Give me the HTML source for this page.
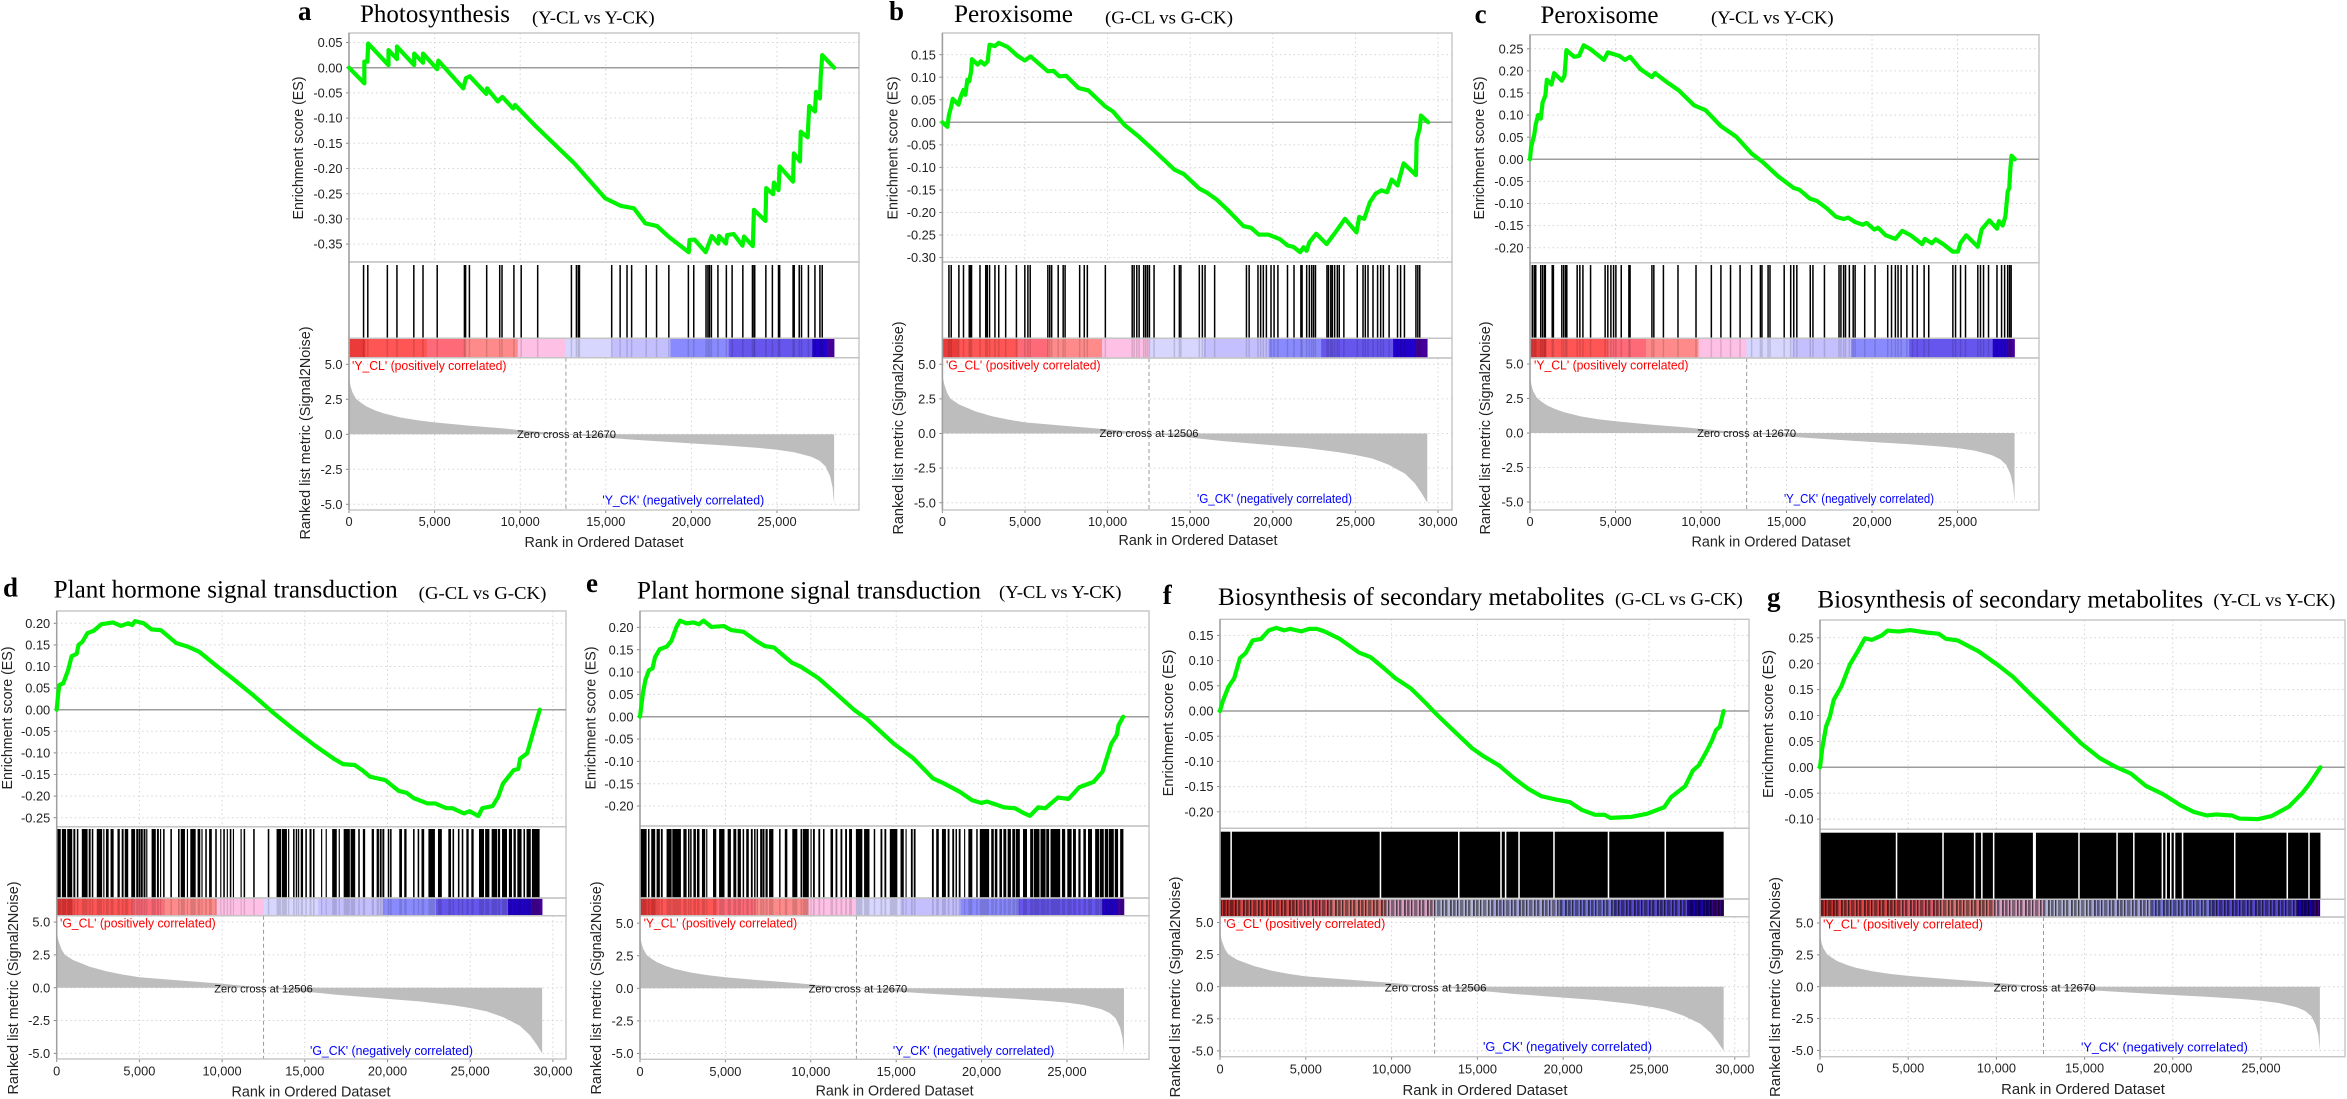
<!DOCTYPE html>
<html lang="en">
<head>
<meta charset="utf-8">
<title>GSEA enrichment plots</title>
<style>
html,body{margin:0;padding:0;background:#fff;width:2347px;height:1099px;overflow:hidden}
svg{display:block;filter:blur(.35px)}
.ttl{font-family:"Liberation Serif",serif;font-size:25px;fill:#000}
.sub{font-family:"Liberation Serif",serif;font-size:18px;fill:#000}
.let{font-family:"Liberation Serif",serif;font-size:27px;font-weight:bold;fill:#000}
.axt{font-family:"Liberation Sans",sans-serif;font-size:14.4px;fill:#222}
.tck{font-family:"Liberation Sans",sans-serif;font-size:12.8px;fill:#222}
.pos{font-family:"Liberation Sans",sans-serif;font-size:12.6px;fill:#f00}
.neg{font-family:"Liberation Sans",sans-serif;font-size:12.6px;fill:#00f}
.zer{font-family:"Liberation Sans",sans-serif;font-size:11.2px;fill:#111}
</style>
</head>
<body>
<svg id="figure" xmlns="http://www.w3.org/2000/svg" width="2347" height="1099" viewBox="0 0 2347 1099">
<defs>
<pattern id="heat-stripes" patternUnits="userSpaceOnUse" width="23" height="10">
<rect x="0" y="0" width="23" height="10" fill="#000" opacity=".16"/>
<rect x="1" y="0" width="1.8" height="10" fill="#000" opacity=".62"/>
<rect x="4" y="0" width="2.6" height="10" fill="#000" opacity=".48"/>
<rect x="8" y="0" width="1.4" height="10" fill="#000" opacity=".66"/>
<rect x="11" y="0" width="3.4" height="10" fill="#000" opacity=".4"/>
<rect x="16" y="0" width="1.6" height="10" fill="#000" opacity=".62"/>
<rect x="19" y="0" width="2.4" height="10" fill="#000" opacity=".5"/>
</pattern>
</defs>
<rect width="2347" height="1099" fill="#fff"/>
<g id="plots"></g>

<g>
<text class="let" x="298" y="20">a</text>
<text class="ttl" x="360" y="22" textLength="150" lengthAdjust="spacingAndGlyphs">Photosynthesis</text>
<text class="sub" x="532" y="23.5" textLength="122.7" lengthAdjust="spacingAndGlyphs">(Y-CL vs Y-CK)</text>
<text class="let" x="889" y="20">b</text>
<text class="ttl" x="954" y="22" textLength="119" lengthAdjust="spacingAndGlyphs">Peroxisome</text>
<text class="sub" x="1105" y="23.5" textLength="128" lengthAdjust="spacingAndGlyphs">(G-CL vs G-CK)</text>
<text class="let" x="1474.6" y="23">c</text>
<text class="ttl" x="1540.5" y="23" textLength="118" lengthAdjust="spacingAndGlyphs">Peroxisome</text>
<text class="sub" x="1711" y="23.5" textLength="122.7" lengthAdjust="spacingAndGlyphs">(Y-CL vs Y-CK)</text>
<text class="let" x="3" y="596.7">d</text>
<text class="ttl" x="53.7" y="597.7" textLength="344" lengthAdjust="spacingAndGlyphs">Plant hormone signal transduction</text>
<text class="sub" x="418.7" y="599" textLength="127.7" lengthAdjust="spacingAndGlyphs">(G-CL vs G-CK)</text>
<text class="let" x="586" y="592">e</text>
<text class="ttl" x="637" y="598.3" textLength="344" lengthAdjust="spacingAndGlyphs">Plant hormone signal transduction</text>
<text class="sub" x="999" y="598" textLength="122.5" lengthAdjust="spacingAndGlyphs">(Y-CL vs Y-CK)</text>
<text class="let" x="1162.7" y="604">f</text>
<text class="ttl" x="1218" y="605" textLength="386.6" lengthAdjust="spacingAndGlyphs">Biosynthesis of secondary metabolites</text>
<text class="sub" x="1615" y="605" textLength="127.8" lengthAdjust="spacingAndGlyphs">(G-CL vs G-CK)</text>
<text class="let" x="1767" y="606">g</text>
<text class="ttl" x="1817.4" y="607.7" textLength="385.8" lengthAdjust="spacingAndGlyphs">Biosynthesis of secondary metabolites</text>
<text class="sub" x="2213.4" y="606" textLength="122" lengthAdjust="spacingAndGlyphs">(Y-CL vs Y-CK)</text>
</g>

<g>
<text class="axt" text-anchor="middle" transform="translate(303,148) rotate(-90)" textLength="143" lengthAdjust="spacingAndGlyphs">Enrichment score (ES)</text>
<text class="axt" text-anchor="middle" transform="translate(310,433) rotate(-90)" textLength="213" lengthAdjust="spacingAndGlyphs">Ranked list metric (Signal2Noise)</text>
<text class="axt" text-anchor="middle" x="604" y="547" textLength="159" lengthAdjust="spacingAndGlyphs">Rank in Ordered Dataset</text>
<text class="axt" text-anchor="middle" transform="translate(897.6,148) rotate(-90)" textLength="143" lengthAdjust="spacingAndGlyphs">Enrichment score (ES)</text>
<text class="axt" text-anchor="middle" transform="translate(903,428) rotate(-90)" textLength="213" lengthAdjust="spacingAndGlyphs">Ranked list metric (Signal2Noise)</text>
<text class="axt" text-anchor="middle" x="1198" y="545" textLength="159" lengthAdjust="spacingAndGlyphs">Rank in Ordered Dataset</text>
<text class="axt" text-anchor="middle" transform="translate(1484,148) rotate(-90)" textLength="143" lengthAdjust="spacingAndGlyphs">Enrichment score (ES)</text>
<text class="axt" text-anchor="middle" transform="translate(1490,428) rotate(-90)" textLength="213" lengthAdjust="spacingAndGlyphs">Ranked list metric (Signal2Noise)</text>
<text class="axt" text-anchor="middle" x="1771" y="546.5" textLength="159" lengthAdjust="spacingAndGlyphs">Rank in Ordered Dataset</text>
<text class="axt" text-anchor="middle" transform="translate(12,718) rotate(-90)" textLength="143" lengthAdjust="spacingAndGlyphs">Enrichment score (ES)</text>
<text class="axt" text-anchor="middle" transform="translate(18,988) rotate(-90)" textLength="213" lengthAdjust="spacingAndGlyphs">Ranked list metric (Signal2Noise)</text>
<text class="axt" text-anchor="middle" x="311" y="1096.7" textLength="159" lengthAdjust="spacingAndGlyphs">Rank in Ordered Dataset</text>
<text class="axt" text-anchor="middle" transform="translate(595.5,718) rotate(-90)" textLength="143" lengthAdjust="spacingAndGlyphs">Enrichment score (ES)</text>
<text class="axt" text-anchor="middle" transform="translate(601,988) rotate(-90)" textLength="213" lengthAdjust="spacingAndGlyphs">Ranked list metric (Signal2Noise)</text>
<text class="axt" text-anchor="middle" x="894.6" y="1095.7" textLength="158" lengthAdjust="spacingAndGlyphs">Rank in Ordered Dataset</text>
<text class="axt" text-anchor="middle" transform="translate(1173,723) rotate(-90)" textLength="146.7" lengthAdjust="spacingAndGlyphs">Enrichment score (ES)</text>
<text class="axt" text-anchor="middle" transform="translate(1180,987) rotate(-90)" textLength="221" lengthAdjust="spacingAndGlyphs">Ranked list metric (Signal2Noise)</text>
<text class="axt" text-anchor="middle" x="1485" y="1095" textLength="165" lengthAdjust="spacingAndGlyphs">Rank in Ordered Dataset</text>
<text class="axt" text-anchor="middle" transform="translate(1773,724) rotate(-90)" textLength="148" lengthAdjust="spacingAndGlyphs">Enrichment score (ES)</text>
<text class="axt" text-anchor="middle" transform="translate(1780,987) rotate(-90)" textLength="220" lengthAdjust="spacingAndGlyphs">Ranked list metric (Signal2Noise)</text>
<text class="axt" text-anchor="middle" x="2083" y="1094" textLength="163.7" lengthAdjust="spacingAndGlyphs">Rank in Ordered Dataset</text>
</g>

<g>
<text class="pos" x="352" y="370" textLength="154.5" lengthAdjust="spacingAndGlyphs">'Y_CL' (positively correlated)</text>
<text class="neg" x="602.4" y="504.5" textLength="161.8" lengthAdjust="spacingAndGlyphs">'Y_CK' (negatively correlated)</text>
<text class="zer" text-anchor="middle" x="566.5" y="438" textLength="99" lengthAdjust="spacingAndGlyphs">Zero cross at 12670</text>
<text class="pos" x="946" y="369.5" textLength="154.5" lengthAdjust="spacingAndGlyphs">'G_CL' (positively correlated)</text>
<text class="neg" x="1197" y="503" textLength="155" lengthAdjust="spacingAndGlyphs">'G_CK' (negatively correlated)</text>
<text class="zer" text-anchor="middle" x="1149" y="437" textLength="99" lengthAdjust="spacingAndGlyphs">Zero cross at 12506</text>
<text class="pos" x="1534" y="369.5" textLength="154.5" lengthAdjust="spacingAndGlyphs">'Y_CL' (positively correlated)</text>
<text class="neg" x="1784" y="503" textLength="150" lengthAdjust="spacingAndGlyphs">'Y_CK' (negatively correlated)</text>
<text class="zer" text-anchor="middle" x="1746.6" y="437" textLength="99" lengthAdjust="spacingAndGlyphs">Zero cross at 12670</text>
<text class="pos" x="60" y="927.5" textLength="155.7" lengthAdjust="spacingAndGlyphs">'G_CL' (positively correlated)</text>
<text class="neg" x="310" y="1054.8" textLength="163" lengthAdjust="spacingAndGlyphs">'G_CK' (negatively correlated)</text>
<text class="zer" text-anchor="middle" x="263.5" y="992.3" textLength="98.5" lengthAdjust="spacingAndGlyphs">Zero cross at 12506</text>
<text class="pos" x="643.6" y="927.5" textLength="153.6" lengthAdjust="spacingAndGlyphs">'Y_CL' (positively correlated)</text>
<text class="neg" x="892.9" y="1054.8" textLength="161.4" lengthAdjust="spacingAndGlyphs">'Y_CK' (negatively correlated)</text>
<text class="zer" text-anchor="middle" x="857.9" y="992.3" textLength="98.6" lengthAdjust="spacingAndGlyphs">Zero cross at 12670</text>
<text class="pos" x="1223.7" y="927.8" textLength="161.6" lengthAdjust="spacingAndGlyphs">'G_CL' (positively correlated)</text>
<text class="neg" x="1483" y="1051.2" textLength="169" lengthAdjust="spacingAndGlyphs">'G_CK' (negatively correlated)</text>
<text class="zer" text-anchor="middle" x="1435.6" y="991.3" textLength="101.7" lengthAdjust="spacingAndGlyphs">Zero cross at 12506</text>
<text class="pos" x="1823" y="928.5" textLength="160" lengthAdjust="spacingAndGlyphs">'Y_CL' (positively correlated)</text>
<text class="neg" x="2081" y="1051.5" textLength="166.8" lengthAdjust="spacingAndGlyphs">'Y_CK' (negatively correlated)</text>
<text class="zer" text-anchor="middle" x="2044.7" y="991.3" textLength="102" lengthAdjust="spacingAndGlyphs">Zero cross at 12670</text>
</g>
</svg>

<script>
/* ---------- shared data ---------- */
const rankTicksY = [0, 5000, 10000, 15000, 20000, 25000];
const rankTicksG = [0, 5000, 10000, 15000, 20000, 25000, 30000];
const metricTicks = [5, 2.5, 0, -2.5, -5];
const zeroCrossY = 12670;
const zeroCrossG = 12506;

const metricRankY = [0,100,200,400,700,1000,1500,2000,3000,4000,5000,7000,9000,10000,12670,15000,17000,20000,22000,24000,25000,26000,27000,27500,27843,28100,28250,28336];
const metricValueY = [4.0,3.4,3.0,2.55,2.25,2.0,1.72,1.5,1.2,1.0,0.85,0.62,0.42,0.3,0,-0.25,-0.42,-0.65,-0.8,-0.98,-1.1,-1.28,-1.6,-1.9,-2.3,-3.0,-3.8,-5.0];
const metricRankG = [0,100,300,500,1000,1500,2000,3000,4000,5000,7000,10000,12506,15000,17000,20000,22000,24000,25000,26000,27000,28000,28600,29000,29350];
const metricValueG = [4.3,3.6,2.9,2.5,2.1,1.85,1.6,1.25,1.0,0.8,0.6,0.3,0,-0.3,-0.55,-0.85,-1.05,-1.35,-1.55,-1.8,-2.25,-2.9,-3.6,-4.3,-5.0];

const bandEndsY = [963,4547,6787,9856,12656,15344,18771,22176,27059,27955,28336];
const bandEndsG = [974,4566,6421,9666,12517,15809,19749,22925,27283,28673,29350];

/* ---------- panel a ---------- */
const esRankA = [0,896,896,1075,1120,2307,2307,2800,2800,3808,3808,4323,4323,5152,5220,6675,6830,7056,8019,8064,8690,8960,9587,9700,10931,13171,14963,15859,16643,17315,17987,18659,19846,19891,20182,20832,21190,21571,21616,22019,22086,22467,22982,23072,23587,23654,24326,24371,24774,24819,25088,25155,25939,25984,26342,26387,26790,26880,27216,27283,27507,27552,27642,28336];
const esScoreA = [0,-0.031,0.012,0.012,0.048,0.005,0.035,0.017,0.042,0.005,0.028,0.01,0.028,-0.003,0.014,-0.041,-0.021,-0.017,-0.052,-0.041,-0.067,-0.058,-0.081,-0.074,-0.117,-0.19,-0.259,-0.274,-0.279,-0.309,-0.314,-0.335,-0.366,-0.342,-0.341,-0.366,-0.334,-0.349,-0.334,-0.349,-0.332,-0.33,-0.353,-0.335,-0.354,-0.282,-0.304,-0.239,-0.251,-0.228,-0.243,-0.196,-0.226,-0.17,-0.186,-0.127,-0.138,-0.076,-0.087,-0.048,-0.061,-0.018,0.025,0];
const esTicksA = [0.05,0,-0.05,-0.10,-0.15,-0.20,-0.25,-0.30,-0.35];
const hitsA = [851,1098,2240,2800,3786,4323,5152,6742,6810,7034,8042,8803,8938,9632,10058,11021,12992,13283,13395,13462,15344,15837,16240,16509,17360,17965,18682,19824,20138,20854,20966,21056,21168,21549,22042,22378,23005,23565,23654,23699,24349,24730,25088,25155,25939,26006,26298,26432,26835,27216,27507,27642];

/* ---------- panel b ---------- */
const esRankB = [0,302,395,534,627,975,1114,1277,1393,1509,1625,1741,1787,2135,2321,2553,2739,2855,3180,3412,3946,4526,4990,5338,6383,6731,7079,7497,8240,8820,9864,10328,11025,11837,12882,14042,14622,15551,16015,16595,17291,18220,18684,19148,19728,20424,20889,21237,21655,21864,22050,22212,22629,23256,23790,24370,25067,25229,25531,25879,26227,26575,26923,27202,27550,27921,28664,28710,28896,28966,29407];
const esScoreB = [0,-0.01,0.016,0.035,0.052,0.039,0.057,0.072,0.061,0.094,0.091,0.113,0.14,0.128,0.135,0.128,0.135,0.172,0.169,0.176,0.167,0.148,0.137,0.146,0.113,0.114,0.102,0.103,0.076,0.071,0.035,0.024,-0.006,-0.03,-0.065,-0.105,-0.115,-0.147,-0.156,-0.171,-0.195,-0.23,-0.234,-0.249,-0.249,-0.259,-0.273,-0.276,-0.288,-0.277,-0.285,-0.266,-0.247,-0.27,-0.244,-0.214,-0.244,-0.21,-0.214,-0.177,-0.158,-0.151,-0.155,-0.127,-0.14,-0.091,-0.117,-0.039,-0.013,0.015,0];
const esTicksB = [0.15,0.10,0.05,0,-0.05,-0.10,-0.15,-0.20,-0.25,-0.30];
const hitsB = [395,534,998,1277,1625,1694,1764,2275,2623,2716,2855,3180,3412,3830,4480,4990,5176,5315,6383,6499,6615,7009,7311,7427,8309,8588,8773,9864,11489,11605,11767,11907,12185,12301,12417,12533,12812,14042,14344,14437,15551,15736,15899,16479,18405,18568,19102,19264,19427,19612,19891,20077,20309,20889,21284,21701,21771,22050,22212,22351,22467,22583,23279,23372,23511,23604,23743,23906,24022,24301,25113,25461,25600,25763,26065,26343,26529,26692,27040,27550,27736,27968,28664,28780,28896];

/* ---------- panel c ---------- */
const esRankC = [0,67,247,336,471,628,740,897,986,1256,1412,1861,2018,2130,2578,2870,3139,3542,4327,4551,4888,5224,5560,5852,6457,7130,7309,8026,8699,9596,10268,11165,12062,12959,13631,14528,15425,15761,16367,16770,17331,17892,18340,18609,19012,19460,19685,20133,20358,20806,21367,21770,22264,22936,23093,23497,23721,24170,24729,25020,25178,25514,26187,26411,26860,27309,27421,27645,27802,27937,28025,28093,28160,28361];
const esScoreC = [0,0.028,0.055,0.079,0.1,0.092,0.129,0.144,0.18,0.169,0.195,0.178,0.189,0.247,0.232,0.234,0.258,0.249,0.225,0.242,0.238,0.234,0.225,0.232,0.204,0.186,0.195,0.174,0.156,0.122,0.111,0.075,0.051,0.013,-0.007,-0.039,-0.065,-0.069,-0.089,-0.094,-0.11,-0.13,-0.135,-0.132,-0.142,-0.148,-0.144,-0.159,-0.155,-0.172,-0.18,-0.162,-0.172,-0.192,-0.18,-0.19,-0.181,-0.192,-0.209,-0.209,-0.189,-0.172,-0.198,-0.159,-0.138,-0.157,-0.14,-0.15,-0.129,-0.073,-0.065,-0.02,0.008,0];
const esTicksC = [0.25,0.20,0.15,0.10,0.05,0,-0.05,-0.10,-0.15,-0.20];
const hitsC = [135,247,336,628,740,852,897,1300,1368,1861,1973,2085,2152,2758,2915,3094,3542,4394,4551,4731,4888,5022,5336,5784,5852,7130,7242,7802,8654,9708,10605,11165,11726,12286,12959,13474,13564,13923,14035,14865,15246,15425,15604,16389,16546,17219,18071,18183,18340,18451,18676,18900,19012,19573,20178,20918,21142,21367,21523,21703,22039,22375,22644,23048,23317,24729,24886,25178,25469,26187,26344,26523,26814,27308,27577,27756,27935,28047,28137];

/* ---------- panel d ---------- */
const esRankD = [0,93,162,394,695,904,1205,1321,1553,1854,2248,2712,3407,3871,4335,4566,4729,5262,5725,6305,6769,7233,7928,8623,9550,10709,11868,13027,14186,15577,16736,17315,18011,18475,18938,19865,20677,21141,21604,22415,22879,23574,23922,24617,24965,25498,25730,26356,26703,26981,27630,27908,28024,28441,28673,29021,29207];
const esScoreD = [0,0.038,0.057,0.061,0.092,0.124,0.129,0.15,0.157,0.177,0.183,0.198,0.202,0.194,0.2,0.196,0.205,0.2,0.186,0.184,0.169,0.154,0.146,0.134,0.105,0.07,0.034,-0.005,-0.041,-0.082,-0.113,-0.126,-0.128,-0.14,-0.155,-0.163,-0.188,-0.192,-0.205,-0.217,-0.217,-0.228,-0.228,-0.24,-0.235,-0.246,-0.228,-0.223,-0.201,-0.171,-0.14,-0.137,-0.113,-0.101,-0.07,-0.024,0];
const esTicksD = [0.20,0.15,0.10,0.05,0,-0.05,-0.10,-0.15,-0.20,-0.25];
const hitRunsD = [[46,232],[325,556],[649,927],[1020,1113],[1229,1298],[1530,1854],[1947,2040],[2133,2202],[2434,2735],[2828,2874],[2990,3129],[3268,3431],[3686,3802],[3941,4033],[4126,4312],[4520,4729],[4821,4914],[4961,5030],[5076,5192],[5262,5355],[5424,5470],[5749,5980],[6073,6166],[6259,6305],[6444,6514],[6884,6954],[7348,7418],[7510,7742],[7881,7928],[8090,8391],[8530,8669],[8762,8808],[8994,9063],[9226,9365],[9597,9666],[9898,9944],[10083,10153],[10292,10338],[10477,10547],[10663,10709],[11126,11173],[11312,11381],[11891,11961],[12772,12842],[13305,13560],[13630,13908],[14001,14047],[14302,14372],[14464,14534],[14603,14650],[14766,14882],[15044,15113],[15299,15392],[15507,15577],[15994,16041],[16272,16319],[16667,16921],[17060,17107],[17362,17710],[17780,18034],[18243,18312],[18521,18637],[19054,19170],[19355,19471],[19541,19634],[19703,19796],[20028,20097],[20167,20236],[20723,20862],[21024,21140],[21557,21627],[21836,21905],[22067,22206],[22485,22856],[23064,23273],[23690,23829],[23945,24014],[24269,24339],[24501,24571],[24779,24895],[25081,25197],[25544,25823],[25915,26147],[26309,26611],[26680,26796],[26935,27213],[27352,27514],[27630,27746],[27862,28094],[28233,28303],[28419,28650],[28743,29184]];

/* ---------- panel e ---------- */
const esRankE = [0,167,314,523,732,878,1150,1568,1840,2133,2342,2718,3137,3450,3722,4182,4914,5332,6064,6796,7319,7841,8887,9410,10455,11500,12546,13278,14846,15996,17146,17774,18714,19446,19969,20325,21328,21956,22478,22834,23315,23733,24465,25092,25719,26556,27078,27350,27601,27915,28019,28291];
const esScoreE = [0,0.052,0.082,0.104,0.108,0.133,0.151,0.157,0.17,0.201,0.215,0.209,0.211,0.207,0.215,0.201,0.203,0.194,0.19,0.17,0.158,0.155,0.121,0.112,0.086,0.051,0.015,-0.005,-0.06,-0.093,-0.138,-0.149,-0.168,-0.187,-0.193,-0.19,-0.203,-0.205,-0.216,-0.222,-0.203,-0.205,-0.181,-0.184,-0.158,-0.146,-0.123,-0.09,-0.06,-0.041,-0.019,0];
const esTicksE = [0.20,0.15,0.10,0.05,0,-0.05,-0.10,-0.15,-0.20];
const hitRunsE = [[21,376],[481,544],[669,878],[983,1150],[1234,1317],[1568,1840],[1903,2384],[2551,2718],[2823,2886],[2948,3011],[3137,3262],[3346,3471],[3638,3806],[3889,3931],[4287,4454],[4642,4935],[5144,5311],[5478,5625],[5729,5897],[6022,6085],[6231,6357],[6503,6587],[6691,6754],[6838,6900],[7047,7151],[7193,7277],[7360,7465],[7569,7799],[8155,8218],[8489,8615],[8929,9200],[9410,9493],[9556,9870],[9995,10037],[10141,10225],[10455,10539],[10727,10790],[11166,11291],[11459,11542],[11751,11835],[12023,12107],[12253,12400],[12651,13006],[13131,13424],[13696,13759],[14093,14177],[14323,14407],[14637,15055],[15264,15432],[15557,15599],[15871,15954],[16038,16122],[17104,17188],[17355,17481],[17690,17899],[18024,18108],[18296,18380],[18485,18547],[18673,18756],[18986,19028],[19237,19446],[19697,19760],[19906,20429],[20575,20701],[20785,20910],[21056,21182],[21287,21433],[21537,21705],[21809,21956],[22018,22227],[22436,22646],[22855,23001],[23064,23377],[23461,23733],[23796,23942],[24047,24590],[24716,24883],[25029,25259],[25364,25510],[25678,25782],[25970,26096],[26242,26451],[26660,26869],[26932,27141],[27225,27392],[27454,27727],[27810,27978],[28124,28291]];

/* ---------- panel f ---------- */
const esRankF = [0,157,492,828,1163,1499,1901,2394,2841,3288,3736,4071,4742,5190,5637,6085,6979,8098,8769,9552,10223,11118,12013,12572,13578,14697,15368,16263,17158,17941,18724,19619,20401,21072,21855,22415,22750,23981,24876,25882,26285,27113,27560,27896,28343,28678,28902,29126,29350];
const esScoreF = [0,0.019,0.048,0.065,0.105,0.115,0.14,0.143,0.16,0.165,0.16,0.163,0.158,0.163,0.163,0.158,0.143,0.116,0.107,0.085,0.065,0.045,0.015,-0.005,-0.038,-0.074,-0.09,-0.108,-0.134,-0.154,-0.169,-0.176,-0.181,-0.196,-0.206,-0.206,-0.212,-0.21,-0.204,-0.191,-0.171,-0.149,-0.118,-0.108,-0.081,-0.058,-0.038,-0.031,0];
const esTicksF = [0.15,0.10,0.05,0,-0.05,-0.10,-0.15,-0.20];
const hitRunsF = [[0,604],[693,9306],[9395,13869],[13959,16330],[16420,16599],[16688,17381],[17471,19417],[19507,22594],[22683,25904],[25994,29350]];

/* ---------- panel g ---------- */
const esRankG = [0,130,345,561,777,1209,1684,2073,2547,2936,3476,3843,4447,5095,6067,6715,7146,7794,8981,10061,10925,11788,12868,13947,14811,15890,16754,17617,18481,19453,20425,21180,21935,22475,23339,23771,24850,25606,26578,27334,27766,28369];
const esScoreG = [0,0.037,0.079,0.098,0.13,0.156,0.198,0.22,0.249,0.246,0.254,0.264,0.262,0.265,0.26,0.258,0.248,0.245,0.224,0.198,0.175,0.146,0.111,0.075,0.046,0.017,0.001,-0.012,-0.036,-0.052,-0.073,-0.086,-0.093,-0.091,-0.093,-0.099,-0.1,-0.094,-0.076,-0.05,-0.031,0];
const esTicksG = [0.25,0.20,0.15,0.10,0.05,0,-0.05,-0.10];
const hitRunsG = [[0,4296],[4383,6930],[7017,8722],[8809,9133],[9219,9802],[9888,12069],[12241,14638],[14724,16797],[16883,17747],[17833,19366],[19453,19582],[19668,19841],[19927,20057],[20143,20510],[20597,23468],[23554,26447],[26534,27678],[27764,28369]];

/* ---------- colours ---------- */
const bandColors = ['#ea3a3a','#ff5555','#ff6a78','#ff8a8a','#ffc0e6','#d6d6ff','#c4c0ff','#8a8aff','#6656ee','#2200cc','#440099'];

/* ---------- panel layout ---------- */
const panels = [
 {id:'a',left:349,right:859,top:33,esBottom:262,esZero:67.7,esStep:25.2,hitTop:265,hitBottom:337.7,heatTop:338.3,heatBottom:357.7,m5:364,m0:434.3,mNeg5:504,bottom:510,per5000:85.6,xLabelY:526,hitPad:.75,dark:false,
  rank:esRankA,score:esScoreA,ticks:esTicksA,hits:hitsA,runs:null,rankTicks:rankTicksY,zero:zeroCrossY,mRank:metricRankY,mValue:metricValueY,bands:bandEndsY},
 {id:'b',left:942.4,right:1452,top:33,esBottom:262,esZero:122.3,esStep:22.55,hitTop:265,hitBottom:337.7,heatTop:338.3,heatBottom:358,m5:365,m0:433.5,mNeg5:503.5,bottom:510,per5000:82.6,xLabelY:526,hitPad:.75,dark:false,
  rank:esRankB,score:esScoreB,ticks:esTicksB,hits:hitsB,runs:null,rankTicks:rankTicksG,zero:zeroCrossG,mRank:metricRankG,mValue:metricValueG,bands:bandEndsG},
 {id:'c',left:1530,right:2039,top:34.7,esBottom:262.7,esZero:159.3,esStep:22.1,hitTop:265,hitBottom:337.7,heatTop:338.3,heatBottom:358,m5:365,m0:433,mNeg5:503,bottom:510,per5000:85.5,xLabelY:526,hitPad:.75,dark:false,
  rank:esRankC,score:esScoreC,ticks:esTicksC,hits:hitsC,runs:null,rankTicks:rankTicksY,zero:zeroCrossY,mRank:metricRankY,mValue:metricValueY,bands:bandEndsY},
 {id:'d',left:56.7,right:566,top:611,esBottom:826.7,esZero:709.7,esStep:21.6,hitTop:829,hitBottom:897.5,heatTop:898,heatBottom:915.7,m5:921.7,m0:987.7,mNeg5:1053,bottom:1059,per5000:82.7,xLabelY:1075.5,hitPad:.2,dark:false,
  rank:esRankD,score:esScoreD,ticks:esTicksD,hits:null,runs:hitRunsD,rankTicks:rankTicksG,zero:zeroCrossG,mRank:metricRankG,mValue:metricValueG,bands:bandEndsG},
 {id:'e',left:640,right:1149,top:611,esBottom:826,esZero:716.7,esStep:22.33,hitTop:829,hitBottom:897.5,heatTop:898,heatBottom:915.7,m5:923,m0:988.3,mNeg5:1053.3,bottom:1059.3,per5000:85.4,xLabelY:1076,hitPad:.2,dark:false,
  rank:esRankE,score:esScoreE,ticks:esTicksE,hits:null,runs:hitRunsE,rankTicks:rankTicksY,zero:zeroCrossY,mRank:metricRankY,mValue:metricValueY,bands:bandEndsY},
 {id:'f',left:1220,right:1749,top:619.3,esBottom:828.3,esZero:711,esStep:25.2,hitTop:831.7,hitBottom:897.7,heatTop:899,heatBottom:916.7,m5:921.7,m0:986.7,mNeg5:1050,bottom:1056.7,per5000:85.8,xLabelY:1073.5,hitPad:0,dark:true,
  rank:esRankF,score:esScoreF,ticks:esTicksF,hits:null,runs:hitRunsF,rankTicks:rankTicksG,zero:zeroCrossG,mRank:metricRankG,mValue:metricValueG,bands:bandEndsG},
 {id:'g',left:1820,right:2345,top:620,esBottom:829.3,esZero:767.3,esStep:25.9,hitTop:832.7,hitBottom:898.7,heatTop:899.3,heatBottom:917,m5:923.3,m0:986.7,mNeg5:1050.7,bottom:1056.7,per5000:88.2,xLabelY:1072.5,hitPad:0,dark:true,
  rank:esRankG,score:esScoreG,ticks:esTicksG,hits:null,runs:hitRunsG,rankTicks:rankTicksY,zero:zeroCrossY,mRank:metricRankY,mValue:metricValueY,bands:bandEndsY}
];

/* ---------- drawing ---------- */
const NS = 'http://www.w3.org/2000/svg';
const plotsRoot = document.getElementById('plots');

function svgEl(tag, attrs, parent) {
  const el = document.createElementNS(NS, tag);
  for (const k in attrs) el.setAttribute(k, attrs[k]);
  parent.appendChild(el);
  return el;
}
function fmtRank(v) {
  return v.toLocaleString('en-US');
}

function drawPanel(p) {
  const xScale = r => p.left + r / 5000 * p.per5000;
  const esScale = v => p.esZero - v / 0.05 * p.esStep;
  const mUnit = (p.mNeg5 - p.m5) / 10;
  const mScale = v => p.m0 - v * mUnit;
  const hitRuns = p.runs ? p.runs : p.hits.map(r => [r, r]);
  const endRank = p.bands[p.bands.length - 1];

  const g = svgEl('g', {}, plotsRoot);
  
  

  /* grids */
  for (const t of p.rankTicks) {
    if (t === 0) continue;
    const gx = xScale(t);
    const l1 = svgEl('line', {x1: gx, x2: gx, y1: p.top, y2: p.esBottom, stroke: '#d4d4d4', 'stroke-width': 1, 'stroke-dasharray': '1.5 3'}, g);
    
    
    const l2 = svgEl('line', {x1: gx, x2: gx, y1: p.heatBottom, y2: p.bottom, stroke: '#d4d4d4', 'stroke-width': 1, 'stroke-dasharray': '1.5 3'}, g);
    
    
  }
  for (const t of p.ticks) {
    const gy = esScale(t);
    if (t !== 0) {
      const l = svgEl('line', {x1: p.left, x2: p.right, y1: gy, y2: gy, stroke: '#d4d4d4', 'stroke-width': 1, 'stroke-dasharray': '1.5 3'}, g);
      
      
    }
    const tk = svgEl('line', {x1: p.left - 3, x2: p.left, y1: gy, y2: gy, stroke: '#888', 'stroke-width': 1}, g);
    
    
    const lb = svgEl('text', {x: p.left - 6.5, y: gy + 4.6, 'text-anchor': 'end', class: 'tck'}, g);
    
    
    lb.textContent = t.toFixed(2);
  }
  for (const t of metricTicks) {
    const gy = mScale(t);
    const l = svgEl('line', {x1: p.left, x2: p.right, y1: gy, y2: gy, stroke: '#d4d4d4', 'stroke-width': 1, 'stroke-dasharray': '1.5 3'}, g);
    
    
    const tk = svgEl('line', {x1: p.left - 3, x2: p.left, y1: gy, y2: gy, stroke: '#888', 'stroke-width': 1}, g);
    
    
    const lb = svgEl('text', {x: p.left - 6.5, y: gy + 4.6, 'text-anchor': 'end', class: 'tck'}, g);
    
    
    lb.textContent = t.toFixed(1);
  }
  for (const t of p.rankTicks) {
    const gx = xScale(t);
    const tk = svgEl('line', {x1: gx, x2: gx, y1: p.bottom, y2: p.bottom + 3, stroke: '#888', 'stroke-width': 1}, g);
    
    
    const lb = svgEl('text', {x: gx, y: p.xLabelY, 'text-anchor': 'middle', class: 'tck'}, g);
    
    
    lb.textContent = fmtRank(t);
  }

  /* metric area */
  const areaPts = [xScale(p.mRank[0]) + ',' + mScale(0)];
  p.mRank.forEach((r, i) => areaPts.push(xScale(r) + ',' + mScale(p.mValue[i])));
  areaPts.push(xScale(p.mRank[p.mRank.length - 1]) + ',' + mScale(0));
  const area = svgEl('polygon', {points: areaPts.join(' '), fill: '#bdbdbd'}, g);
  
  

  /* zero cross line */
  const zl = svgEl('line', {x1: xScale(p.zero), x2: xScale(p.zero), y1: p.heatBottom, y2: p.bottom, stroke: '#9a9a9a', 'stroke-width': 1, 'stroke-dasharray': '4 3'}, g);
  
  

  /* heat bands */
  p.bands.forEach((end, i) => {
    const start = i === 0 ? 0 : p.bands[i - 1];
    const b = svgEl('rect', {x: xScale(start), y: p.heatTop, width: xScale(end) - xScale(start) + .3, height: p.heatBottom - p.heatTop, fill: bandColors[i]}, g);
    
    
  });
  if (p.dark) {
    const st = svgEl('rect', {x: xScale(0), y: p.heatTop, width: xScale(endRank) - xScale(0), height: p.heatBottom - p.heatTop, fill: 'url(#heat-stripes)'}, g);
    
    
  }

  /* hits */
  for (const run of hitRuns) {
    const x0 = xScale(run[0]) - p.hitPad;
    const w = xScale(run[1]) - xScale(run[0]) + 2 * p.hitPad;
    const h = svgEl('rect', {x: x0, y: p.hitTop, width: w, height: p.hitBottom - p.hitTop, fill: '#000'}, g);
    
    
    if (!p.dark) {
      const o = svgEl('rect', {x: x0, y: p.heatTop, width: w, height: p.heatBottom - p.heatTop, fill: '#000', opacity: .14}, g);
      
      
    }
  }

  /* frames */
  const frames = [
    ['es-plot-frame', p.top, p.esBottom],
    ['hit-plot-frame', p.esBottom, p.heatTop],
    ['heat-strip-frame', p.heatTop, p.heatBottom],
    ['metric-plot-frame', p.heatBottom, p.bottom]
  ];
  for (const f of frames) {
    const r = svgEl('rect', {x: p.left, y: f[1], width: p.right - p.left, height: f[2] - f[1], fill: 'none', stroke: '#c4c4c4', 'stroke-width': 1.4}, g);
    
    
  }
  const axis = svgEl('line', {x1: p.left, x2: p.left, y1: p.top, y2: p.bottom, stroke: '#a0a0a0', 'stroke-width': 1.5}, g);
  
  

  /* zero line */
  const z = svgEl('line', {x1: p.left, x2: p.right, y1: esScale(0), y2: esScale(0), stroke: '#9c9c9c', 'stroke-width': 1.5}, g);
  
  

  /* ES curve */
  const pts = p.rank.map((r, i) => xScale(r) + ',' + esScale(p.score[i])).join(' ');
  const line = svgEl('polyline', {points: pts, fill: 'none', stroke: '#00f400', 'stroke-width': 4.2, 'stroke-linejoin': 'round', 'stroke-linecap': 'round'}, g);
  
  
}

panels.forEach(drawPanel);
</script>
</body>
</html>
